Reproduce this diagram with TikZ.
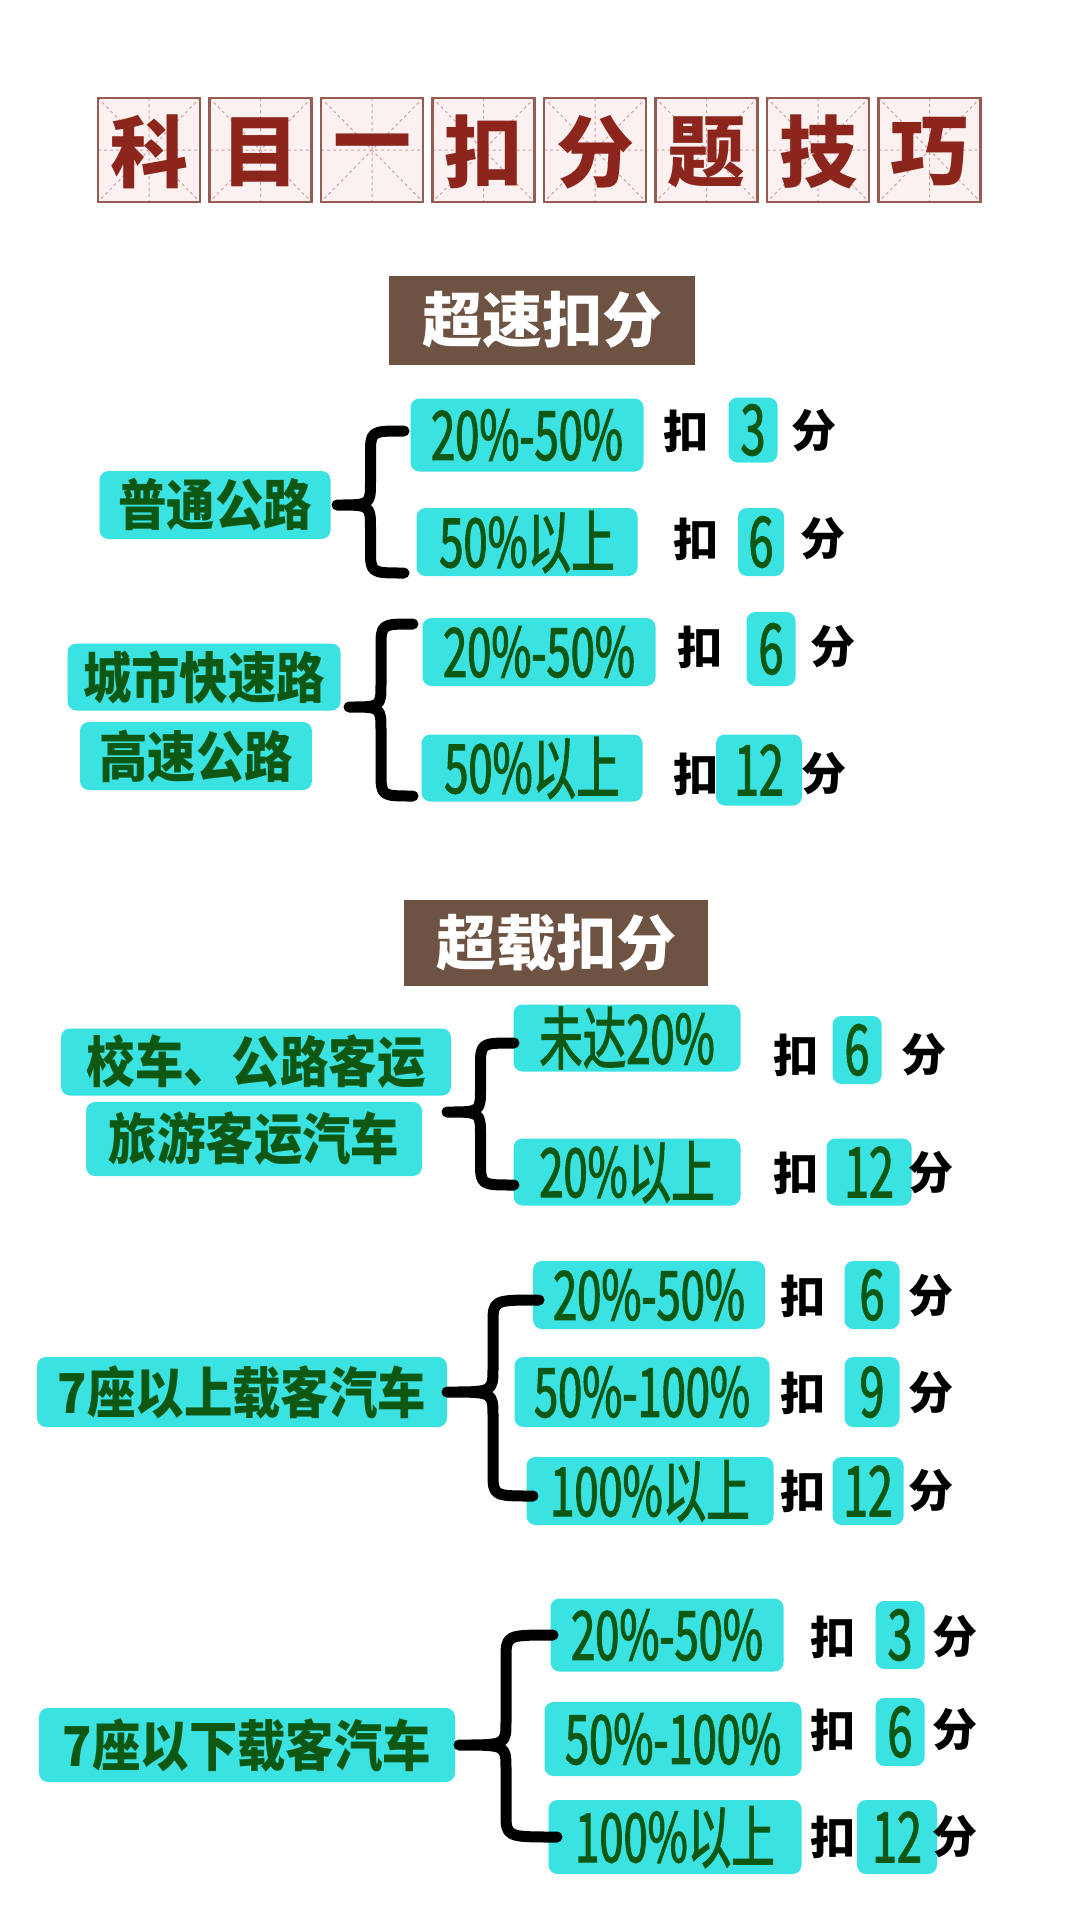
\documentclass[tikz,border=0pt]{standalone}
\usepackage{fontspec}
\newfontfamily\cjk{Noto Sans CJK SC}
\newfontfamily\boxfont[FakeStretch=0.64, FakeBold=1.6]{Noto Sans CJK SC}
\newfontfamily\labfont[FakeStretch=0.88]{Noto Sans CJK SC}
\usepackage{tikz}
\usetikzlibrary{calc}
\definecolor{boxcyan}{RGB}{58,226,226}
\definecolor{boxgreen}{RGB}{14,88,20}
\definecolor{headbrown}{RGB}{110,82,66}
\definecolor{titlered}{RGB}{140,38,28}
\definecolor{titlepink}{RGB}{252,241,241}
\definecolor{titleline}{RGB}{210,160,160}
\definecolor{titleedge}{RGB}{150,92,82}
\tikzset{
  rangebox/.style={rectangle, rounded corners=9pt, fill=boxcyan, text=boxgreen, inner sep=0pt,
                   minimum height=68pt, font=\boxfont\fontsize{68}{68}\selectfont},
  labbox/.style={rectangle, rounded corners=9pt, fill=boxcyan, text=boxgreen, inner sep=0pt,
                 minimum height=68pt, font=\labfont\bfseries\fontsize{55}{55}\selectfont},
  numbox/.style={rectangle, rounded corners=9pt, fill=boxcyan, text=boxgreen, inner sep=0pt,
                 minimum height=68pt, font=\boxfont\fontsize{70}{70}\selectfont},
  kou/.style={inner sep=0pt, text=black, font=\cjk\bfseries\fontsize{45}{45}\selectfont},
  headbox/.style={rectangle, fill=headbrown, text=white, inner sep=0pt,
                  font=\cjk\bfseries\fontsize{60}{60}\selectfont},
  titlechar/.style={inner sep=0pt, text=titlered, font=\cjk\bfseries\fontsize{78}{78}\selectfont},
  braceline/.style={line width=11pt, line cap=round, line join=round, black},
}
% curly brace: top end, tip, bottom end
\newcommand{\curlybrace}[3]{%
  \draw[braceline] let \p1=(#1), \p2=(#2), \p3=(#3), \p4=($(#1)!0.5!(#2)$) in
    (\p1) .. controls (\x4,\y1) .. (\x4,\y1-24pt) -- (\x4,\y2+24pt)
    .. controls (\x4,\y2) .. (\p2) .. controls (\x4,\y2) .. (\x4,\y2-24pt)
    -- (\x4,\y3+24pt) .. controls (\x4,\y3) .. (\p3);}

\begin{document}
\begin{tikzpicture}[x=1pt, y=-1pt]
  \useasboundingbox (0,0) rectangle (1080,1920);
  \fill[white] (0,0) rectangle (1080,1920);

  % title grid boxes
  \foreach \ch [count=\i from 0] in {科,目,一,扣,分,题,技,巧} {
    \pgfmathsetmacro{\xl}{98+111.5*\i}
    \fill[titlepink] (\xl,98) rectangle ++(102,104);
    \draw[titleline, dashed, line width=1pt] (\xl,98) -- ++(102,104) (\xl+102,98) -- ++(-102,104)
      (\xl+51,98) -- ++(0,104) (\xl,150) -- ++(102,0);
    \draw[titleedge, line width=2.5pt] (\xl,98) rectangle ++(102,104);
    \node[titlechar] (title\i) at (\xl+51,152) {\ch};
  }

  % speeding
  \node[headbox, minimum width=306pt, minimum height=89pt] (speed) at (542,320) {超速扣分};

  \node[labbox, minimum width=231pt] (road) at (215,505) {普通公路};
  \node[rangebox, minimum width=233pt, minimum height=73pt] (roadA) at (527,435) {20\%-50\%};
  \node[rangebox, minimum width=221pt] (roadB) at (527,542) {50\%以上};
  \node[kou] (roadAk) at (686,431) {扣};
  \node[numbox, minimum width=49pt, minimum height=65pt] (roadAn) at (753,430) {3};
  \node[kou] (roadAf) at (814,431) {分};
  \node[kou] (roadBk) at (696,539) {扣};
  \node[numbox, minimum width=46pt] (roadBn) at (761,542) {6};
  \node[kou] (roadBf) at (823,539) {分};
  \coordinate (roadT) at (404,431);
  \coordinate (roadP) at (337,505);
  \coordinate (roadE) at (404,573);
  \curlybrace{roadT}{roadP}{roadE}

  \node[labbox, minimum width=273pt, minimum height=67pt] (city) at (204,677) {城市快速路};
  \node[labbox, minimum width=232pt] (hway) at (196,756) {高速公路};
  \node[rangebox, minimum width=233pt] (hwayA) at (539,652) {20\%-50\%};
  \node[rangebox, minimum width=221pt, minimum height=67pt] (hwayB) at (532,768) {50\%以上};
  \node[kou] (hwayAk) at (700,647) {扣};
  \node[numbox, minimum width=49pt, minimum height=74pt] (hwayAn) at (771,649) {6};
  \node[kou] (hwayAf) at (833,647) {分};
  \node[kou] (hwayBk) at (696,774) {扣};
  \node[numbox, minimum width=86pt, minimum height=71pt] (hwayBn) at (759,770) {12};
  \node[kou] (hwayBf) at (824,774) {分};
  \coordinate (hwayT) at (413,624);
  \coordinate (hwayP) at (349,707);
  \coordinate (hwayE) at (413,796);
  \curlybrace{hwayT}{hwayP}{hwayE}

  % overloading
  \node[headbox, minimum width=304pt, minimum height=86pt] (load) at (556,943) {超载扣分};

  \node[labbox, minimum width=390pt, minimum height=67pt] (bus) at (256,1062) {校车、公路客运};
  \node[labbox, minimum width=336pt, minimum height=74pt] (tour) at (254,1139) {旅游客运汽车};
  \node[rangebox, minimum width=227pt, minimum height=67pt] (busA) at (627,1038) {未达20\%};
  \node[rangebox, minimum width=227pt, minimum height=67pt] (busB) at (627,1172) {20\%以上};
  \node[kou] (busAk) at (796,1055) {扣};
  \node[numbox, minimum width=49pt] (busAn) at (857,1050) {6};
  \node[kou] (busAf) at (924,1055) {分};
  \node[kou] (busBk) at (796,1173) {扣};
  \node[numbox, minimum width=85pt, minimum height=67pt] (busBn) at (869,1172) {12};
  \node[kou] (busBf) at (931,1173) {分};
  \coordinate (busT) at (514,1043);
  \coordinate (busP) at (447,1112);
  \coordinate (busE) at (514,1185);
  \curlybrace{busT}{busP}{busE}

  \node[labbox, minimum width=410pt, minimum height=70pt] (big) at (242,1392) {7座以上载客汽车};
  \node[rangebox, minimum width=232pt] (bigA) at (649,1295) {20\%-50\%};
  \node[rangebox, minimum width=255pt, minimum height=70pt] (bigB) at (642,1392) {50\%-100\%};
  \node[rangebox, minimum width=247pt] (bigC) at (650,1491) {100\%以上};
  \node[kou] (bigAk) at (803,1296) {扣};
  \node[numbox, minimum width=55pt] (bigAn) at (872,1295) {6};
  \node[kou] (bigAf) at (931,1296) {分};
  \node[kou] (bigBk) at (803,1393) {扣};
  \node[numbox, minimum width=55pt, minimum height=70pt] (bigBn) at (872,1392) {9};
  \node[kou] (bigBf) at (931,1393) {分};
  \node[kou] (bigCk) at (803,1491) {扣};
  \node[numbox, minimum width=71pt] (bigCn) at (868,1491) {12};
  \node[kou] (bigCf) at (931,1491) {分};
  \coordinate (bigT) at (539,1300);
  \coordinate (bigP) at (447,1392);
  \coordinate (bigE) at (533,1496);
  \curlybrace{bigT}{bigP}{bigE}

  \node[labbox, minimum width=416pt, minimum height=74pt] (small) at (247,1745) {7座以下载客汽车};
  \node[rangebox, minimum width=233pt, minimum height=73pt] (smallA) at (667,1635) {20\%-50\%};
  \node[rangebox, minimum width=257pt, minimum height=74pt] (smallB) at (673,1739) {50\%-100\%};
  \node[rangebox, minimum width=253pt, minimum height=74pt] (smallC) at (675,1837) {100\%以上};
  \node[kou] (smallAk) at (833,1637) {扣};
  \node[numbox, minimum width=49pt] (smallAn) at (900,1635) {3};
  \node[kou] (smallAf) at (955,1637) {分};
  \node[kou] (smallBk) at (833,1730) {扣};
  \node[numbox, minimum width=49pt] (smallBn) at (900,1732) {6};
  \node[kou] (smallBf) at (955,1730) {分};
  \node[kou] (smallCk) at (833,1837) {扣};
  \node[numbox, minimum width=80pt, minimum height=74pt] (smallCn) at (897,1837) {12};
  \node[kou] (smallCf) at (955,1837) {分};
  \coordinate (smallT) at (553,1635);
  \coordinate (smallP) at (459,1745);
  \coordinate (smallE) at (557,1837);
  \curlybrace{smallT}{smallP}{smallE}
\end{tikzpicture}
\end{document}
